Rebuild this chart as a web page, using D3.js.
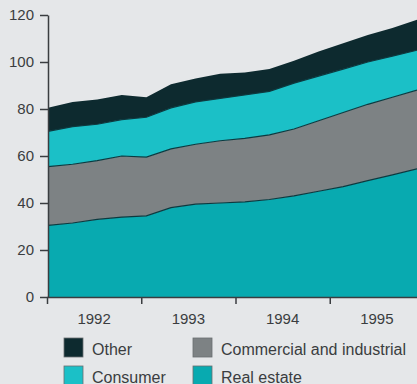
<!DOCTYPE html>
<html>
<head>
<meta charset="utf-8">
<script src="https://cdn.jsdelivr.net/npm/d3@7/dist/d3.min.js"></script>
<style>
  html, body { margin: 0; padding: 0; background: #e5e7e9; }
  svg { display: block; }
  text { font-family: "Liberation Sans", Arial, sans-serif; fill: #3a3d40; }
</style>
</head>
<body>
<svg id="chart" width="417" height="384"></svg>
<script>
// Quarterly loans outstanding, 1992 Q1 – 1995 Q4
const quarters = ["1992Q1","1992Q2","1992Q3","1992Q4","1993Q1","1993Q2","1993Q3","1993Q4",
                  "1994Q1","1994Q2","1994Q3","1994Q4","1995Q1","1995Q2","1995Q3","1995Q4"];
const realEstate = [30.5,31.5,33,34,34.5,38,39.5,40,40.5,41.5,43,45,47,49.5,52,54.5];
const commercial = [25,25,25,26,25,25,25.5,26.5,27,27.5,28.5,30,31.5,32.5,33,33.5];
const consumer   = [15,16,15.5,15.5,17,17.5,18,18,18.5,18.5,19.5,19,18.5,18,17.5,17];
const other      = [10,10.5,10.5,10.5,8.5,10,10,10.5,9.5,9.5,9.5,10.5,11,11.5,12,13];

const years = ["1992","1993","1994","1995"];
const yTicks = [0,20,40,60,80,100,120];

const seriesKeys = ["realEstate","commercial","consumer","other"];
const seriesColors = {
  realEstate: "#08aab0",
  commercial: "#7d8284",
  consumer:   "#1bc0c7",
  other:      "#0d2a2f"
};
const legendItems = [
  {key:"other", label:"Other"},
  {key:"commercial", label:"Commercial and industrial"},
  {key:"consumer", label:"Consumer"},
  {key:"realEstate", label:"Real estate"}
];

const table = quarters.map((q, i) => ({
  q, realEstate: realEstate[i], commercial: commercial[i],
  consumer: consumer[i], other: other[i]
}));

const svg = d3.select("#chart");
const plot = {left: 48, right: 417, top: 15, bottom: 297};

const x = d3.scalePoint().domain(quarters).range([plot.left, plot.right]);
const xYear = d3.scaleLinear().domain([1992, 1996]).range([47, 424]);
const y = d3.scaleLinear().domain([0, 120]).range([plot.bottom, plot.top]);

const layers = d3.stack().keys(seriesKeys)(table);

const area = d3.area()
  .x(d => x(d.data.q))
  .y0(d => y(d[0]))
  .y1(d => y(d[1]));

const edge = d3.line()
  .x(d => x(d.data.q))
  .y(d => y(d[1]));

svg.append("g").selectAll("path")
  .data(layers)
  .join("path")
  .attr("d", area)
  .attr("fill", d => seriesColors[d.key]);

// thin edges between layers
svg.append("g").selectAll("path")
  .data(layers.slice(0, 3))
  .join("path")
  .attr("d", edge)
  .attr("fill", "none")
  .attr("stroke", "#0b3a40")
  .attr("stroke-width", 1.2);

// Y axis
const yAxis = svg.append("g")
  .attr("transform", `translate(${plot.left},0)`)
  .call(d3.axisLeft(y).tickValues(yTicks).tickSize(8).tickPadding(6).tickSizeOuter(0));
yAxis.select(".domain").attr("stroke", "#3a3d40").attr("stroke-width", 1.5);
yAxis.selectAll(".tick line").attr("stroke", "#3a3d40").attr("stroke-width", 1.5);
yAxis.selectAll("text").attr("font-size", 15).attr("fill", "#3a3d40")
  .style("font-family", "'Liberation Sans', Arial, sans-serif");

// X axis: year ticks with labels centred in each year
const xAxis = svg.append("g")
  .attr("transform", `translate(0,${plot.bottom})`)
  .call(d3.axisBottom(xYear).tickValues([1992,1993,1994,1995]).tickSize(7)
        .tickFormat("").tickSizeOuter(0));
xAxis.select(".domain").attr("stroke", "#3a3d40").attr("stroke-width", 1.5);
xAxis.selectAll(".tick line").attr("stroke", "#3a3d40").attr("stroke-width", 1.5);

svg.append("g").selectAll("text")
  .data(years)
  .join("text")
  .attr("x", d => xYear(+d + 0.5))
  .attr("y", plot.bottom + 27)
  .attr("text-anchor", "middle")
  .attr("font-size", 15)
  .text(d => d);

// Legend
const legendPos = [
  {x: 64, y: 338}, {x: 193, y: 338},
  {x: 64, y: 366}, {x: 193, y: 366}
];
const lg = svg.append("g").selectAll("g")
  .data(legendItems)
  .join("g")
  .attr("transform", (d, i) => `translate(${legendPos[i].x},${legendPos[i].y})`);
lg.append("rect")
  .attr("width", 19).attr("height", 19)
  .attr("fill", d => seriesColors[d.key])
  .attr("stroke", "#6a6e70").attr("stroke-width", 0.8);
lg.append("text")
  .attr("x", 28).attr("y", 16.5)
  .attr("font-size", 16)
  .text(d => d.label);
</script>
</body>
</html>
